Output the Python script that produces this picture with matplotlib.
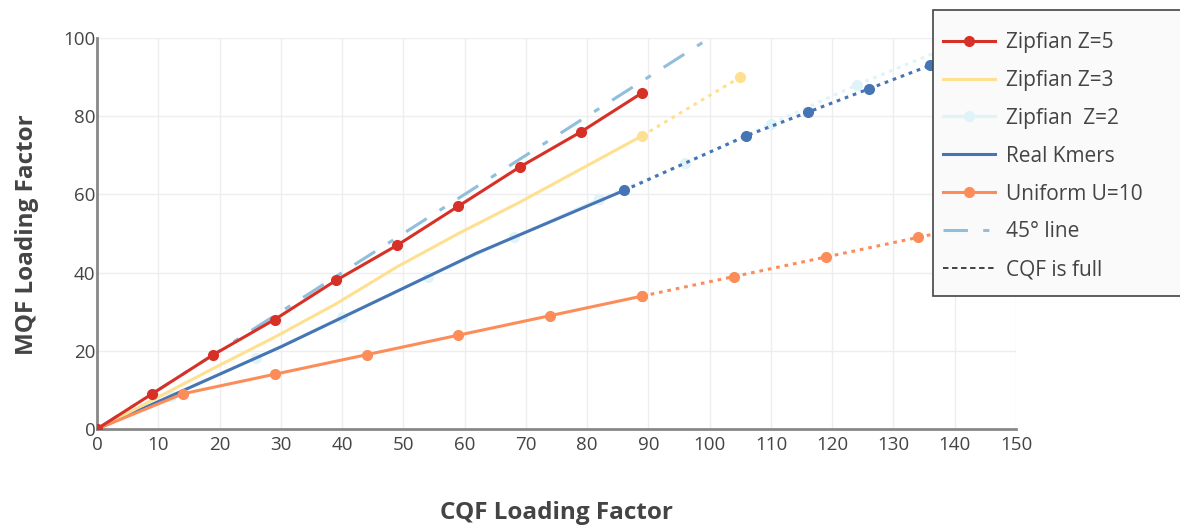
import matplotlib
matplotlib.use("Agg")
import matplotlib.pyplot as plt
from matplotlib.lines import Line2D
from matplotlib.patches import Rectangle

plt.rcParams['font.family'] = ['Open Sans', 'DejaVu Sans']

# ---- data ----
z5_x = [0, 9, 19, 29, 39, 49, 59, 69, 79, 89]
z5_y = [0, 9, 19, 28, 38, 47, 57, 67, 76, 86]

z3_x = [0, 19, 29, 39, 49, 59, 69, 79, 89]
z3_y = [0, 15.5, 23.5, 32, 41.5, 50, 58, 66.5, 75]
z3_full_x = [89, 105]
z3_full_y = [75, 90]

z2_x = [0, 12, 26, 40, 54, 68, 82]
z2_y = [0, 8.4, 18.2, 28.6, 39, 49, 58.8]
z2_full_x = [82, 96, 110, 124, 138]
z2_full_y = [58.8, 68, 78, 88, 97]

real_x = [0, 30, 62, 86]
real_y = [0, 21, 45, 61]
real_full_x = [86, 106, 116, 126, 136, 146]
real_full_y = [61, 75, 81, 87, 93, 99]

uni_x = [0, 14, 29, 44, 59, 74, 89]
uni_y = [0, 9, 14, 19, 24, 29, 34]
uni_full_x = [89, 104, 119, 134, 149]
uni_full_y = [34, 39, 44, 49, 54]

diag_x = [0, 100]
diag_y = [0, 100]

xticks = list(range(0, 151, 10))
yticks = list(range(0, 101, 20))

c_red = '#d73027'
c_yel = '#fee090'
c_lb = '#e0f3f8'
c_blue = '#4575b4'
c_or = '#fc8d59'
c_diag = '#91bfdb'

fig = plt.figure(figsize=(11.8, 5.27), dpi=100)
ax = fig.add_axes([97/1180, 1-429/527, (1016-97)/1180, (429-38)/527])

dot = (0, (1.2, 1.6))
lw = 2.2
ms = 7

# Zipfian Z=2 (under real kmers)
ax.plot(z2_x, z2_y, color=c_lb, lw=lw, marker='o', ms=ms, zorder=2)
ax.plot(z2_full_x, z2_full_y, color=c_lb, lw=lw, ls=dot, marker='o', ms=ms, zorder=2)
# Real kmers
ax.plot(real_x, real_y, color=c_blue, lw=lw, zorder=3)
ax.plot(real_full_x, real_full_y, color=c_blue, lw=lw, ls=dot, marker='o', ms=ms, zorder=3)
# Zipfian Z=3
ax.plot(z3_x, z3_y, color=c_yel, lw=lw, zorder=3)
ax.plot(z3_full_x, z3_full_y, color=c_yel, lw=lw, ls=dot, marker='o', ms=ms, zorder=3)
# Uniform
ax.plot(uni_x, uni_y, color=c_or, lw=lw, marker='o', ms=ms, zorder=3)
ax.plot(uni_full_x, uni_full_y, color=c_or, lw=lw, ls=dot, marker='o', ms=ms, zorder=3)
# 45 deg line
ax.plot(diag_x, diag_y, color=c_diag, lw=lw, ls=(0, (8, 5, 2, 5)), zorder=4)
# Zipfian Z=5
ax.plot(z5_x, z5_y, color=c_red, lw=lw, marker='o', ms=ms, zorder=5)

ax.set_xlim(0, 150)
ax.set_ylim(0, 100)
ax.set_xticks(xticks)
ax.set_yticks(yticks)
ax.grid(True, color='#eeeeee', lw=1)
ax.set_axisbelow(True)
for s in ['top', 'right']:
    ax.spines[s].set_visible(False)
for s in ['left', 'bottom']:
    ax.spines[s].set_color('#888888')
    ax.spines[s].set_linewidth(2)
ax.tick_params(length=0, labelsize=13.5, colors='#444444')
ax.tick_params(axis='x', pad=5)
ax.tick_params(axis='y', pad=1)

fig.text(556/1180, 1-513/527, 'CQF Loading Factor', ha='center', va='center',
         fontsize=17.5, fontweight='bold', color='#444444')
fig.text(27/1180, 1-235/527, 'MQF Loading Factor', ha='center', va='center',
         rotation=90, fontsize=17.5, fontweight='bold', color='#444444')

# legend frame
frame = Rectangle((933/1180, 1-296/527), 260/1180, 286/527, transform=fig.transFigure,
                  facecolor='#fafafa', edgecolor='#444444', lw=1.2, zorder=9)
fig.patches.append(frame)

handles = [
    Line2D([], [], color=c_red, lw=lw, marker='o', ms=ms),
    Line2D([], [], color=c_yel, lw=lw),
    Line2D([], [], color=c_lb, lw=lw, marker='o', ms=ms),
    Line2D([], [], color=c_blue, lw=lw),
    Line2D([], [], color=c_or, lw=lw, marker='o', ms=ms),
    Line2D([], [], color=c_diag, lw=lw, ls=(0, (8, 5, 2, 5))),
    Line2D([], [], color='#333333', lw=1.3, ls=(0, (3, 2))),
]
labels = ['Zipfian Z=5', 'Zipfian Z=3', 'Zipfian  Z=2', 'Real Kmers',
          'Uniform U=10', '45° line', 'CQF is full']
leg = fig.legend(handles, labels, loc='upper left',
                 bbox_to_anchor=(943/1180, 1-32/527), fontsize=15,
                 frameon=False, handlelength=2.5,
                 labelspacing=0.81, borderpad=0, borderaxespad=0,
                 handletextpad=0.5, labelcolor='#444444')
leg.set_zorder(10)

fig.savefig('out.png', dpi=100)
